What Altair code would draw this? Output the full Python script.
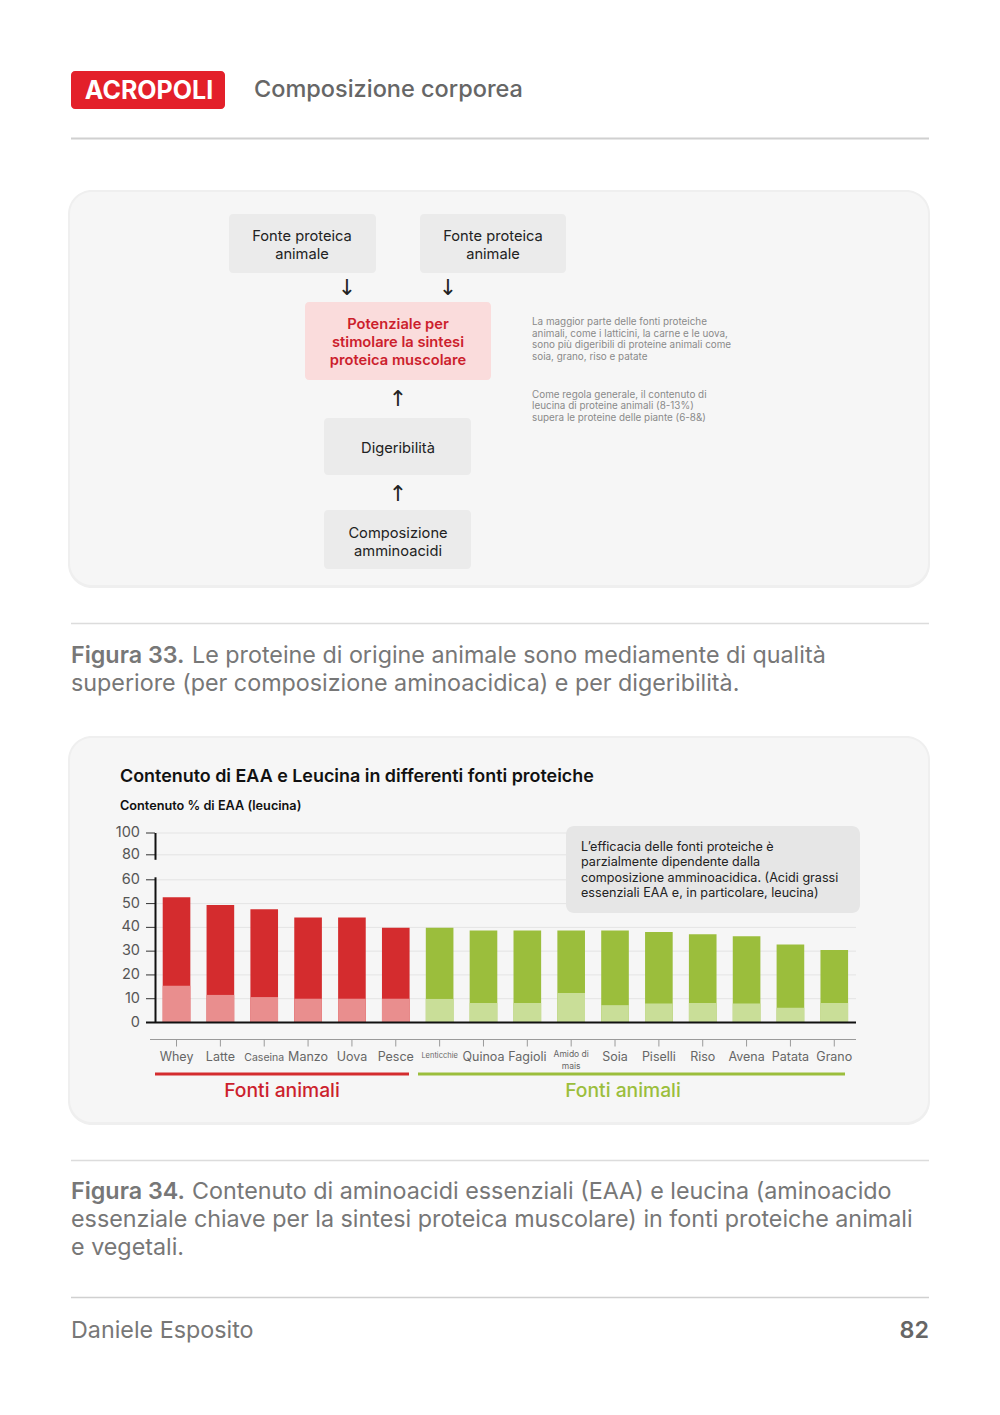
import altair as alt
import pandas as pd

# ---------------- data ----------------
foods = ["Whey", "Latte", "Caseina", "Manzo", "Uova", "Pesce", "Lenticchie", "Quinoa",
         "Fagioli", "Amido di mais", "Soia", "Piselli", "Riso", "Avena", "Patata", "Grano"]
eaa = [52.7, 49.4, 47.6, 44.2, 44.2, 39.8, 39.8, 38.7, 38.7, 38.7, 38.7, 38.1, 37.1, 36.3, 32.8, 30.5]
leucina = [15.5, 11.6, 10.7, 10.0, 10.0, 10.0, 9.9, 8.2, 8.2, 12.4, 7.3, 8.0, 8.2, 8.0, 6.2, 8.2]
gruppo = ["animale", "animale", "animale", "animale", "animale", "animale",
          "vegetale", "vegetale", "vegetale", "vegetale", "vegetale", "vegetale",
          "vegetale", "vegetale", "vegetale", "vegetale"]
y_ticks = [0, 10, 20, 30, 40, 50, 60, 80, 100]

df = pd.DataFrame({"food": foods, "eaa": eaa, "leu": leucina, "gruppo": gruppo})
ticks_df = pd.DataFrame({"t": y_ticks})

# ---------------- styling ----------------
W, H = 984, 1399
O = 8
FONT = "Inter"
RED = "#d42c2e"
RED_L = "#e98e8e"
GREEN = "#9bbe3c"
GREEN_L = "#c9de98"
BLANK = alt.Data(values=[{"k": 1}])


def px(v):
    return v - O


def rect(x1, y1, x2, y2, fill, r=0, **kw):
    return alt.Chart(BLANK).mark_rect(fill=fill, cornerRadius=r, **kw).encode(
        x=alt.value(px(x1)), x2=alt.value(px(x2)), y=alt.value(px(y1)), y2=alt.value(px(y2)))


def rule(x1, y1, x2, y2, color, w=1):
    return alt.Chart(BLANK).mark_rule(stroke=color, strokeWidth=w).encode(
        x=alt.value(px(x1)), x2=alt.value(px(x2)), y=alt.value(px(y1)), y2=alt.value(px(y2)))


def text(x, y, s, size, color, weight=400, align="left", font=FONT):
    return alt.Chart(BLANK).mark_text(text=s, fontSize=size, color=color, fontWeight=weight,
                                      align=align, baseline="middle", font=font).encode(
        x=alt.value(px(x)), y=alt.value(px(y)))


layers = []

# header
layers.append(rect(71, 71, 225, 109, "#e3202a", r=4))
layers.append(text(149, 91, "ACROPOLI", 25, "white", weight=700, align="center"))
layers.append(text(254, 90, "Composizione corporea", 23.5, "#666666", weight=500))
layers.append(rule(71, 138.5, 929, 138.5, "#d0d0d0", 2))

# figure 33 panel
layers.append(rect(68, 190, 930, 588, "#efefef", r=24))
layers.append(rect(70, 192, 928, 585, "#f6f6f6", r=22))
layers.append(rect(229, 214, 376, 273, "#ebebeb", r=4))
layers.append(text(302, 237, "Fonte proteica", 14.7, "#222222", align="center"))
layers.append(text(302, 255, "animale", 14.7, "#222222", align="center"))
layers.append(rect(420, 214, 566, 273, "#ebebeb", r=4))
layers.append(text(493, 237, "Fonte proteica", 14.7, "#222222", align="center"))
layers.append(text(493, 255, "animale", 14.7, "#222222", align="center"))
layers.append(text(347, 288, "↓", 22, "#222222", align="center", font="DejaVu Sans"))
layers.append(text(448, 288, "↓", 22, "#222222", align="center", font="DejaVu Sans"))
layers.append(rect(305, 302, 491, 380, "#fadcdc", r=4))
for yy, s in zip([325, 343, 361], ["Potenziale per", "stimolare la sintesi", "proteica muscolare"]):
    layers.append(text(398, yy, s, 14.7, "#cc1f2d", weight=600, align="center"))
layers.append(text(398, 399, "↑", 22, "#222222", align="center", font="DejaVu Sans"))
layers.append(rect(324, 418, 471, 475, "#ebebeb", r=4))
layers.append(text(398, 449, "Digeribilità", 14.7, "#222222", align="center"))
layers.append(text(398, 494, "↑", 22, "#222222", align="center", font="DejaVu Sans"))
layers.append(rect(324, 510, 471, 569, "#ebebeb", r=4))
layers.append(text(398, 534, "Composizione", 14.7, "#222222", align="center"))
layers.append(text(398, 552, "amminoacidi", 14.7, "#222222", align="center"))
note1 = ["La maggior parte delle fonti proteiche", "animali, come i latticini, la carne e le uova,",
         "sono più digeribili di proteine animali come", "soia, grano, riso e patate"]
for i, s in enumerate(note1):
    layers.append(text(532, 322 + i * 11.7, s, 9.9, "#8a8a8a"))
note2 = ["Come regola generale, il contenuto di", "leucina di proteine animali (8-13%)",
         "supera le proteine delle piante (6-8&)"]
for i, s in enumerate(note2):
    layers.append(text(532, 394.5 + i * 11.8, s, 9.9, "#8a8a8a"))

# caption 33
layers.append(rule(71, 623.5, 929, 623.5, "#dcdcdc", 1.5))
layers.append(text(71, 656, "Figura 33.", 23.3, "#777777", weight=600))
layers.append(text(192, 656, "Le proteine di origine animale sono mediamente di qualità", 23.3, "#777777"))
layers.append(text(71, 684, "superiore (per composizione aminoacidica) e per digeribilità.", 23.3, "#777777"))

# figure 34 panel
layers.append(rect(68, 736, 930, 1125, "#efefef", r=24))
layers.append(rect(70, 738, 928, 1122, "#f6f6f6", r=22))
layers.append(text(120, 777, "Contenuto di EAA e Leucina in differenti fonti proteiche", 17.9, "#111111", weight=600))
layers.append(text(120, 806, "Contenuto % di EAA (leucina)", 12.7, "#111111", weight=600))

# chart scales
xs = alt.Scale(domain=foods, range=[px(154.6), px(856.2)], paddingInner=0.37, paddingOuter=0.185)
ys = alt.Scale(domain=[0, 60, 80, 100], range=[px(1022.5), px(879.8), px(854.8), px(833)], nice=False)

# grid lines
layers.append(alt.Chart(ticks_df).mark_rule(stroke="#e4e4e4", strokeWidth=1).encode(
    y=alt.Y("t:Q", scale=ys, axis=None), x=alt.value(px(156)), x2=alt.value(px(856))))

# annotation box
layers.append(rect(566, 826, 860, 913, "#e6e6e6", r=8))
note3 = ["L’efficacia delle fonti proteiche è", "parzialmente dipendente dalla",
         "composizione amminoacidica. (Acidi grassi", "essenziali EAA e, in particolare, leucina)"]
for i, s in enumerate(note3):
    layers.append(text(581, 847 + i * 15.3, s, 12.6, "#222222"))

# bars
layers.append(alt.Chart(df).mark_bar().encode(
    x=alt.X("food:N", scale=xs, sort=foods, axis=None),
    y=alt.Y("eaa:Q", scale=ys, axis=None),
    color=alt.condition("datum.gruppo == 'animale'", alt.value(RED), alt.value(GREEN)),
))
layers.append(alt.Chart(df).mark_bar().encode(
    x=alt.X("food:N", scale=xs, sort=foods, axis=None),
    y=alt.Y("leu:Q", scale=ys, axis=None),
    color=alt.condition("datum.gruppo == 'animale'", alt.value(RED_L), alt.value(GREEN_L)),
))

# y axis: ticks and labels through the y scale
layers.append(alt.Chart(ticks_df).mark_rule(stroke="#333333", strokeWidth=1).encode(
    y=alt.Y("t:Q", scale=ys, axis=None), x=alt.value(px(146)), x2=alt.value(px(155))))
layers.append(alt.Chart(ticks_df).mark_text(align="right", baseline="middle", font=FONT,
                                            fontSize=14.5, color="#555555").encode(
    y=alt.Y("t:Q", scale=ys, axis=None), x=alt.value(px(140)), text=alt.Text("t:Q")))

# baseline and broken y-axis line
layers.append(alt.Chart(BLANK).mark_rule(stroke="#111111", strokeWidth=2).encode(
    y=alt.Y(datum=0, scale=ys, axis=None), x=alt.value(px(146)), x2=alt.value(px(856))))
layers.append(alt.Chart(BLANK).mark_rule(stroke="#111111", strokeWidth=2).encode(
    x=alt.value(px(155.5)), y=alt.Y(datum=0, scale=ys, axis=None), y2=alt.Y2(datum=62)))
layers.append(alt.Chart(BLANK).mark_rule(stroke="#111111", strokeWidth=2).encode(
    x=alt.value(px(155.5)), y=alt.Y(datum=76, scale=ys, axis=None), y2=alt.Y2(datum=100)))

# x axis: domain, ticks and labels through the x scale
layers.append(rule(150, 1039.5, 856, 1039.5, "#9a9a9a", 1))
layers.append(alt.Chart(df).mark_rule(stroke="#9a9a9a", strokeWidth=1).encode(
    x=alt.X("food:N", scale=xs, sort=foods, axis=None, bandPosition=0.5),
    y=alt.value(px(1039.5)), y2=alt.value(px(1046.5))))
layers.append(alt.Chart(df).transform_filter(
    "datum.food != 'Lenticchie' && datum.food != 'Caseina' && datum.food != 'Amido di mais'"
).mark_text(baseline="middle", font=FONT, fontSize=12.5, color="#666666").encode(
    x=alt.X("food:N", scale=xs, sort=foods, axis=None, bandPosition=0.5),
    y=alt.value(px(1057)), text="food:N"))
layers.append(alt.Chart(df).transform_filter("datum.food == 'Caseina'").mark_text(
    baseline="middle", font=FONT, fontSize=10.5, color="#666666").encode(
    x=alt.X("food:N", scale=xs, sort=foods, axis=None, bandPosition=0.5),
    y=alt.value(px(1057.5)), text="food:N"))
layers.append(alt.Chart(df).transform_filter("datum.food == 'Lenticchie'").mark_text(
    baseline="middle", font=FONT, fontSize=7.5, color="#666666").encode(
    x=alt.X("food:N", scale=xs, sort=foods, axis=None, bandPosition=0.5),
    y=alt.value(px(1056)), text="food:N"))
layers.append(alt.Chart(df).transform_filter("datum.food == 'Amido di mais'").transform_calculate(
    lbl="replace(datum.food, 'di ', 'di\\n')").mark_text(
    baseline="middle", font=FONT, fontSize=8.5, color="#666666", lineBreak="\n", lineHeight=12).encode(
    x=alt.X("food:N", scale=xs, sort=foods, axis=None, bandPosition=0.5),
    y=alt.value(px(1053.5)), text="lbl:N"))

# group underlines
layers.append(rule(155, 1074, 409, 1074, RED, 3))
layers.append(rule(418, 1074, 845, 1074, GREEN, 3))
layers.append(text(282, 1091, "Fonti animali", 19.3, "#cc1f2d", weight=500, align="center"))
layers.append(text(623, 1091, "Fonti animali", 19.3, GREEN, weight=500, align="center"))

# caption 34
layers.append(rule(71, 1160.5, 929, 1160.5, "#dcdcdc", 1.5))
layers.append(text(71, 1192, "Figura 34.", 23.3, "#777777", weight=600))
layers.append(text(192, 1192, "Contenuto di aminoacidi essenziali (EAA) e leucina (aminoacido", 23.3, "#777777"))
layers.append(text(71, 1220, "essenziale chiave per la sintesi proteica muscolare) in fonti proteiche animali", 23.3, "#777777"))
layers.append(text(71, 1248, "e vegetali.", 23.3, "#777777"))

# footer
layers.append(rule(71, 1297.5, 929, 1297.5, "#d0d0d0", 1.5))
layers.append(text(71, 1331, "Daniele Esposito", 23.3, "#777777"))
layers.append(text(929, 1331, "82", 23.3, "#666666", weight=600, align="right"))

chart = alt.layer(*layers).properties(
    width=W, height=H, autosize=alt.AutoSizeParams(type="none"), padding=0, background="white"
).configure_view(strokeWidth=0)

chart.save("out.html", embed_options={"renderer": "svg", "actions": False})
